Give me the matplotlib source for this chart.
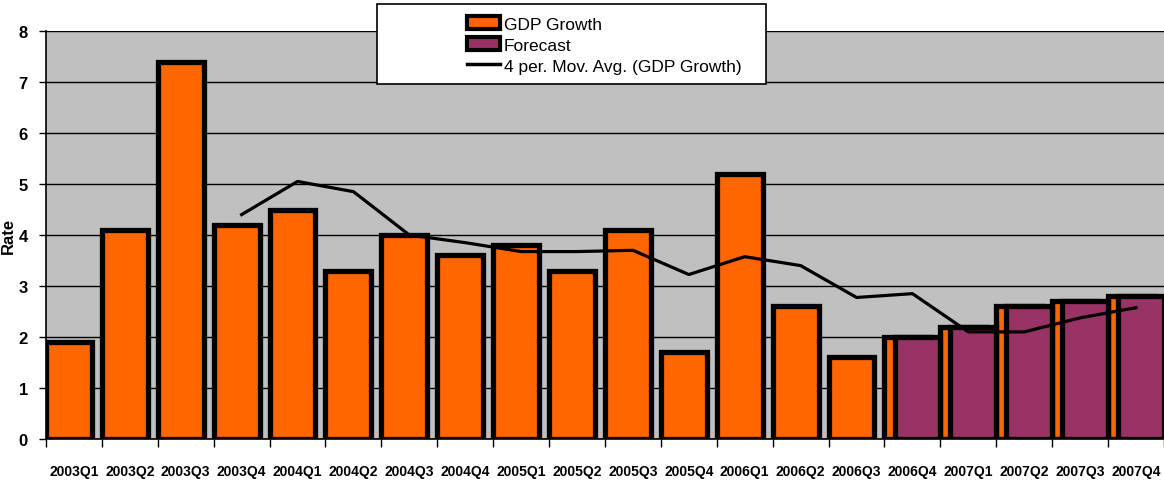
import matplotlib.pyplot as plt
from matplotlib.patches import Rectangle, Patch
from matplotlib.lines import Line2D
import numpy as np

quarters = ['2003Q1', '2003Q2', '2003Q3', '2003Q4', '2004Q1', '2004Q2', '2004Q3',
            '2004Q4', '2005Q1', '2005Q2', '2005Q3', '2005Q4', '2006Q1', '2006Q2',
            '2006Q3', '2006Q4', '2007Q1', '2007Q2', '2007Q3', '2007Q4']
gdp_growth = [1.9, 4.1, 7.4, 4.2, 4.5, 3.3, 4.0, 3.6, 3.8, 3.3, 4.1, 1.7, 5.2, 2.6,
              1.6, 2.0, 2.2, 2.6, 2.7, 2.8]
forecast = [None] * 15 + [2.0, 2.2, 2.6, 2.7, 2.8]

plt.rcParams['font.family'] = ['Liberation Sans', 'DejaVu Sans']

fig = plt.figure(figsize=(11.64, 4.85), dpi=100)
ax = fig.add_axes([0.0395, 0.0928, 0.9605, 0.8412])
ax.set_facecolor('#C0C0C0')

x = np.arange(len(quarters))
w = 0.82
off = (1 - w) / 2

ax.bar(x - off, gdp_growth, width=w, color='#FF6600', edgecolor='black',
       linewidth=3.8, zorder=3)
fx = [i for i, v in enumerate(forecast) if v is not None]
fv = [v for v in forecast if v is not None]
ax.bar(np.array(fx) + off, fv, width=w, color='#993366', edgecolor='black',
       linewidth=3.8, zorder=4)

# 4 period moving average
ma = np.convolve(gdp_growth, np.ones(4) / 4, mode='valid')
ax.plot(x[3:], ma, color='black', linewidth=2.3, zorder=5)

ax.set_xlim(-0.5, len(quarters) - 0.5)
ax.set_ylim(0, 8)
ax.set_yticks(range(0, 9))
ax.yaxis.grid(True, color='black', linewidth=1.0, zorder=0)
ax.set_axisbelow(True)

ax.set_xticks(np.arange(-0.5, len(quarters), 1))
ax.set_xticklabels([])
ax.set_xticks(x, minor=True)
ax.set_xticklabels(quarters, minor=True, fontweight='bold', fontsize=10)
ax.tick_params(axis='x', which='major', length=6, width=1, direction='out')
ax.tick_params(axis='x', which='minor', length=0, pad=18)
ax.tick_params(axis='y', length=5, width=1, direction='out', labelsize=12, pad=8)
for t in ax.get_yticklabels():
    t.set_fontweight('bold')

for s in ['top', 'right']:
    ax.spines[s].set_visible(False)
ax.spines['left'].set_linewidth(1.2)
ax.spines['bottom'].set_linewidth(1.2)

ax.set_ylabel('Rate', fontweight='bold', fontsize=12, labelpad=2)

# legend box
fig.patches.append(Rectangle((377 / 1164, 1 - 85 / 485), 389 / 1164, 80 / 485,
                             transform=fig.transFigure, facecolor='white',
                             edgecolor='black', linewidth=1.2, zorder=10))
handles = [Patch(facecolor='#FF6600', edgecolor='black', linewidth=3),
           Patch(facecolor='#993366', edgecolor='black', linewidth=3),
           Line2D([0], [0], color='black', linewidth=2.5)]
labels = ['GDP Growth', 'Forecast', '4 per. Mov. Avg. (GDP Growth)']
leg = fig.legend(handles, labels, loc='upper left',
                 bbox_to_anchor=(455 / 1164, 1 - 5 / 485), frameon=False,
                 fontsize=12.5, handlelength=1.9, handleheight=0.8,
                 handletextpad=0.2, labelspacing=0.3, borderpad=0.2)
leg.set_zorder(11)

fig.savefig('out.png', dpi=100)
